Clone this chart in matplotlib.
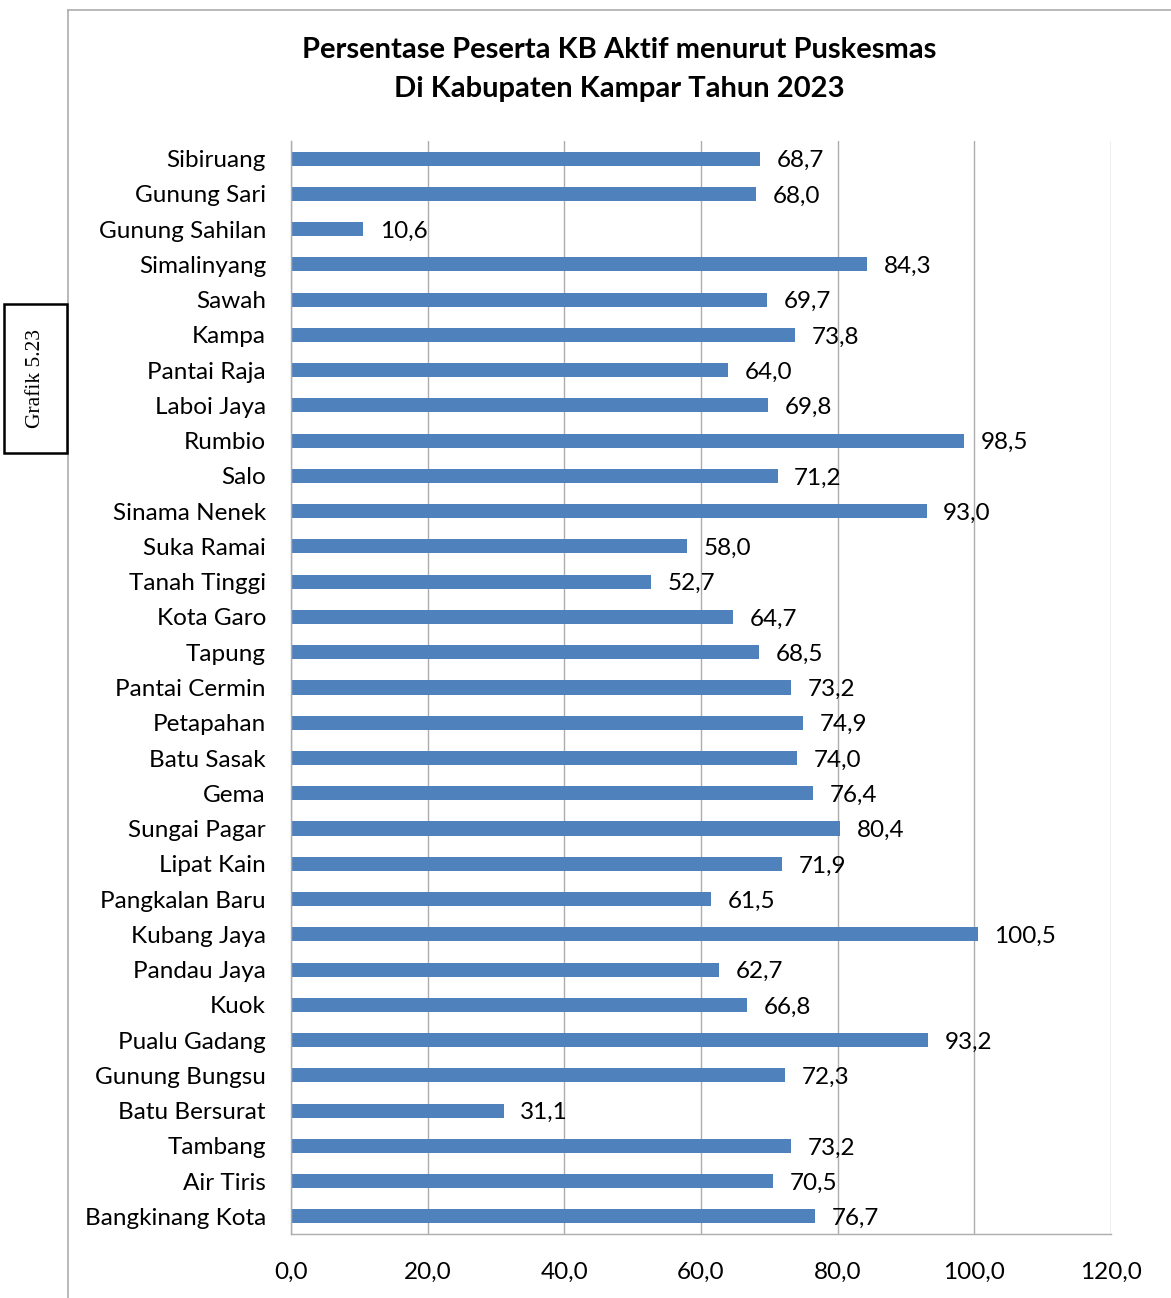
import matplotlib.pyplot as plt
from matplotlib.patches import Rectangle
from matplotlib.lines import Line2D

# ===== Data =====
puskesmas = [
    "Sibiruang", "Gunung Sari", "Gunung Sahilan", "Simalinyang", "Sawah",
    "Kampa", "Pantai Raja", "Laboi Jaya", "Rumbio", "Salo", "Sinama Nenek",
    "Suka Ramai", "Tanah Tinggi", "Kota Garo", "Tapung", "Pantai Cermin",
    "Petapahan", "Batu Sasak", "Gema", "Sungai Pagar", "Lipat Kain",
    "Pangkalan Baru", "Kubang Jaya", "Pandau Jaya", "Kuok", "Pualu Gadang",
    "Gunung Bungsu", "Batu Bersurat", "Tambang", "Air Tiris", "Bangkinang Kota",
]
persen = [
    68.7, 68.0, 10.6, 84.3, 69.7, 73.8, 64.0, 69.8, 98.5, 71.2, 93.0,
    58.0, 52.7, 64.7, 68.5, 73.2, 74.9, 74.0, 76.4, 80.4, 71.9,
    61.5, 100.5, 62.7, 66.8, 93.2, 72.3, 31.1, 73.2, 70.5, 76.7,
]
xticks = [0, 20, 40, 60, 80, 100, 120]

BAR_COLOR = "#4F81BD"
GRID_COLOR = "#ADADAD"
FONT = "Lato"
FS = 17.5

def fmt(v):
    return f"{v:.1f}".replace(".", ",")

fig = plt.figure(figsize=(11.71, 12.98), dpi=100)
ax = fig.add_axes([0.2485, 0.0493, 0.7003, 0.8421])

ypos = list(range(len(puskesmas)))
ax.barh(ypos, persen, height=0.4, color=BAR_COLOR, zorder=2)
ax.set_ylim(len(puskesmas) - 0.5, -0.5)
ax.set_xlim(0, 120)

ax.set_yticks(ypos)
ax.set_yticklabels(puskesmas, fontsize=FS, family=FONT)
ax.set_xticks(xticks)
ax.set_xticklabels([fmt(t) for t in xticks], fontsize=FS, family=FONT)
ax.tick_params(axis="both", length=0)
ax.tick_params(axis="y", pad=18)
ax.tick_params(axis="x", pad=20)

ax.grid(axis="x", color=GRID_COLOR, linewidth=1.0, zorder=1)
ax.set_axisbelow(True)
for side in ("top", "right"):
    ax.spines[side].set_visible(False)
for side in ("left", "bottom"):
    ax.spines[side].set_color(GRID_COLOR)
    ax.spines[side].set_linewidth(1.0)

# value labels at the end of each bar
for y, v in zip(ypos, persen):
    ax.annotate(fmt(v), (v, y), xytext=(12, -1.5), textcoords="offset points",
                va="center", ha="left", fontsize=FS, family=FONT, zorder=3)

fig.text(0.529, 0.9465, "Persentase Peserta KB Aktif menurut Puskesmas\nDi Kabupaten Kampar Tahun 2023",
         ha="center", va="center", fontsize=21, fontweight="bold", family=FONT,
         linespacing=1.6)

# outer chart frame
fig.add_artist(Line2D([68 / 1171, 68 / 1171], [0, 1 - 10 / 1298],
                      transform=fig.transFigure, color=GRID_COLOR, lw=1.2))
fig.add_artist(Line2D([68 / 1171, 1], [1 - 10 / 1298, 1 - 10 / 1298],
                      transform=fig.transFigure, color=GRID_COLOR, lw=1.2))

# caption box on the left
fig.add_artist(Rectangle((4 / 1171, 1 - 453 / 1298), 63 / 1171, 149 / 1298,
                         transform=fig.transFigure, fill=True, facecolor="white",
                         edgecolor="black", lw=1.8, zorder=5))
fig.text(35.5 / 1171, 1 - 378 / 1298, "Grafik 5.23", rotation=90,
         ha="center", va="center", fontsize=15.5, family="Liberation Serif", zorder=6)

fig.savefig("out.png", dpi=100)
